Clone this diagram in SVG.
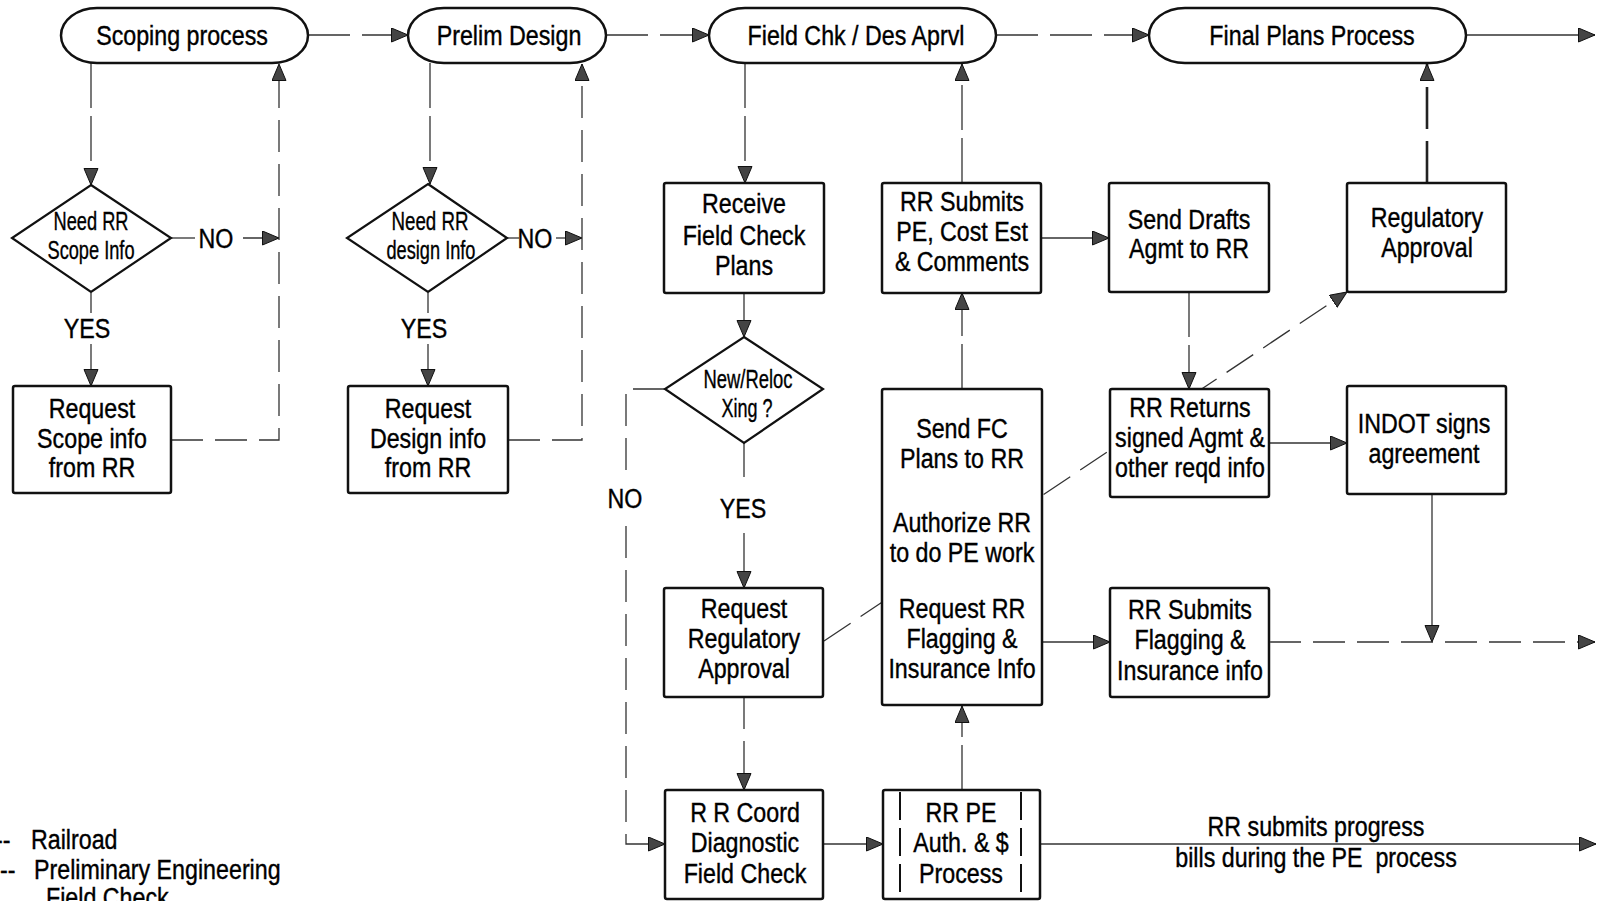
<svg xmlns="http://www.w3.org/2000/svg" width="1598" height="901" viewBox="0 0 1598 901">
<style>
.bg{fill:#fff}
.box{fill:#fff;stroke:#111;stroke-width:2.5}
.term{fill:#fff;stroke:#111;stroke-width:2.5}
.dia{fill:#fff;stroke:#111;stroke-width:2.2}
.t{font-family:"Liberation Sans Narrow","Liberation Sans",Arial,sans-serif;font-size:28px;text-anchor:middle;fill:#000;stroke:#000;stroke-width:0.4}
.tl{font-family:"Liberation Sans Narrow","Liberation Sans",Arial,sans-serif;font-size:28px;fill:#000;stroke:#000;stroke-width:0.4}
.dt{font-family:"Liberation Sans Narrow","Liberation Sans",Arial,sans-serif;font-size:25px;text-anchor:middle;fill:#000;stroke:#000;stroke-width:0.35}
.c{fill:none;stroke:#333;stroke-width:1.3}
.a{marker-end:url(#arr)}
.d1{stroke-dasharray:42 12}
.d2{stroke-dasharray:32 12}
.d3{stroke-dasharray:45 8}
.thick{stroke-width:2.6;stroke:#222}
.inner{stroke:#111;stroke-width:2;stroke-dasharray:28 8}
</style>
<defs>
<marker id="arr" markerUnits="userSpaceOnUse" markerWidth="18" markerHeight="16" refX="17" refY="7.5" orient="auto" viewBox="0 0 18 16">
<path d="M0.5,0.5 L17,7.5 L0.5,14.5 z" fill="#444" stroke="#111" stroke-width="1"/>
</marker>
</defs>
<rect class="bg" x="0" y="0" width="1598" height="901"/>
<g id="connectors">
<path class="c d1 a" d="M308,35 L408,35"/>
<path class="c d1 a" d="M606,35 L709,35"/>
<path class="c d1 a" d="M996,35 L1149,35"/>
<path class="c a" d="M1466,35 L1595,35"/>
<path class="c d3 a" d="M91,63 L91,185"/>
<path class="c" d="M171,238 L195,238"/>
<path class="c a" d="M243,238 L279,238"/>
<path class="c" d="M91,293 L91,313"/>
<path class="c a" d="M91,344 L91,386"/>
<path class="c d2 a" d="M171,440 L279,440 L279,64"/>
<path class="c d3 a" d="M430,63 L430,184"/>
<path class="c" d="M507,238 L519,238"/>
<path class="c a" d="M556,238 L582,238"/>
<path class="c" d="M428,293 L428,313"/>
<path class="c a" d="M428,344 L428,386"/>
<path class="c d2 a" d="M508,440 L582,440 L582,64"/>
<path class="c d3 a" d="M745,63 L745,183"/>
<path class="c a" d="M744,293 L744,337"/>
<path class="c" d="M744,443 L744,477"/>
<path class="c a" d="M744,533 L744,588"/>
<path class="c d2 a" d="M665,389 L626,389 L626,844 L665,844"/>
<path class="c d2 a" d="M744,697 L744,790"/>
<path class="c a" d="M823,844 L883,844"/>
<path class="c d3 a" d="M962,790 L962,706"/>
<path class="c d3 a" d="M962,389 L962,293"/>
<path class="c d3 a" d="M962,183 L962,64"/>
<path class="c a" d="M1041,238 L1109,238"/>
<path class="c d3 a" d="M1189,292 L1189,389"/>
<path class="c d2 a" d="M824,641 L1347,292"/>
<path class="c d1 thick a" d="M1427,183 L1427,64"/>
<path class="c a" d="M1269,443 L1347,443"/>
<path class="c a" d="M1432,494 L1432,642"/>
<path class="c a" d="M1042,642 L1110,642"/>
<path class="c d2 a" d="M1269,642 L1595,642"/>
<path class="c a" d="M1040,844 L1596,844"/>
</g>
<g id="labels">
<text class="t" transform="matrix(.83 0 0 1 216 248)">NO</text>
<text class="t" transform="matrix(.83 0 0 1 535 248)">NO</text>
<text class="t" transform="matrix(.83 0 0 1 87 338)">YES</text>
<text class="t" transform="matrix(.83 0 0 1 424 338)">YES</text>
<rect x="606" y="482" width="38" height="34" fill="#fff"/>
<text class="t" transform="matrix(.83 0 0 1 625 508)">NO</text>
<text class="t" transform="matrix(.83 0 0 1 743 518)">YES</text>
<text class="t" transform="matrix(.83 0 0 1 1316 836)">RR submits progress</text>
<text class="t" transform="matrix(.83 0 0 1 1316 867)" xml:space="preserve">bills during the PE  process</text>
</g>
<g id="n-scoping">
<rect class="term" x="61" y="8" width="247" height="55" rx="36" ry="27.5"/>
<text class="t" transform="matrix(.83 0 0 1 182 45)">Scoping process</text>
</g>
<g id="n-prelim">
<rect class="term" x="408" y="8" width="198" height="55" rx="36" ry="27.5"/>
<text class="t" transform="matrix(.83 0 0 1 509 45)">Prelim Design</text>
</g>
<g id="n-fieldchk">
<rect class="term" x="709" y="8" width="287" height="55" rx="36" ry="27.5"/>
<text class="t" transform="matrix(.83 0 0 1 856 45)">Field Chk / Des Aprvl</text>
</g>
<g id="n-final">
<rect class="term" x="1149" y="8" width="317" height="55" rx="36" ry="27.5"/>
<text class="t" transform="matrix(.83 0 0 1 1312 45)">Final Plans Process</text>
</g>
<g id="n-need-scope">
<polygon class="dia" points="91,185 171,238 91,292 12,238"/>
<text class="dt" x="91" y="230" textLength="75" lengthAdjust="spacingAndGlyphs">Need RR</text>
<text class="dt" x="91" y="259" textLength="87" lengthAdjust="spacingAndGlyphs">Scope Info</text>
</g>
<g id="n-need-design">
<polygon class="dia" points="428,184 507,238 428,292 347,238"/>
<text class="dt" x="430" y="230" textLength="77" lengthAdjust="spacingAndGlyphs">Need RR</text>
<text class="dt" x="431" y="259" textLength="89" lengthAdjust="spacingAndGlyphs">design Info</text>
</g>
<g id="n-req-scope">
<rect class="box" x="13" y="386" width="158" height="107" rx="2"/>
<text class="t" transform="matrix(.83 0 0 1 92 418)">Request</text>
<text class="t" transform="matrix(.83 0 0 1 92 448)">Scope info</text>
<text class="t" transform="matrix(.83 0 0 1 92 477)">from RR</text>
</g>
<g id="n-req-design">
<rect class="box" x="348" y="386" width="160" height="107" rx="2"/>
<text class="t" transform="matrix(.83 0 0 1 428 418)">Request</text>
<text class="t" transform="matrix(.83 0 0 1 428 448)">Design info</text>
<text class="t" transform="matrix(.83 0 0 1 428 477)">from RR</text>
</g>
<g id="n-receive">
<rect class="box" x="664" y="183" width="160" height="110" rx="2"/>
<text class="t" transform="matrix(.83 0 0 1 744 213)">Receive</text>
<text class="t" transform="matrix(.83 0 0 1 744 245)">Field Check</text>
<text class="t" transform="matrix(.83 0 0 1 744 275)">Plans</text>
</g>
<g id="n-rr-submits-pe">
<rect class="box" x="882" y="183" width="159" height="110" rx="2"/>
<text class="t" transform="matrix(.83 0 0 1 962 211)">RR Submits</text>
<text class="t" transform="matrix(.83 0 0 1 962 241)">PE, Cost Est</text>
<text class="t" transform="matrix(.83 0 0 1 962 271)">&amp; Comments</text>
</g>
<g id="n-send-drafts">
<rect class="box" x="1109" y="183" width="160" height="109" rx="2"/>
<text class="t" transform="matrix(.83 0 0 1 1189 229)">Send Drafts</text>
<text class="t" transform="matrix(.83 0 0 1 1189 258)">Agmt to RR</text>
</g>
<g id="n-reg-approval">
<rect class="box" x="1347" y="183" width="159" height="109" rx="2"/>
<text class="t" transform="matrix(.83 0 0 1 1427 227)">Regulatory</text>
<text class="t" transform="matrix(.83 0 0 1 1427 257)">Approval</text>
</g>
<g id="n-new-reloc">
<polygon class="dia" points="744,337 823,389 744,443 665,389"/>
<text class="dt" x="748" y="388" font-size="27" textLength="89" lengthAdjust="spacingAndGlyphs">New/Reloc</text>
<text class="dt" x="747" y="417" font-size="27" textLength="51" lengthAdjust="spacingAndGlyphs">Xing ?</text>
</g>
<g id="n-send-fc">
<rect class="box" x="882" y="389" width="160" height="316" rx="2"/>
<text class="t" transform="matrix(.83 0 0 1 962 438)">Send FC</text>
<text class="t" transform="matrix(.83 0 0 1 962 468)">Plans to RR</text>
<text class="t" transform="matrix(.83 0 0 1 962 532)">Authorize RR</text>
<text class="t" transform="matrix(.83 0 0 1 962 562)">to do PE work</text>
<text class="t" transform="matrix(.83 0 0 1 962 618)">Request RR</text>
<text class="t" transform="matrix(.83 0 0 1 962 648)">Flagging &amp;</text>
<text class="t" transform="matrix(.83 0 0 1 962 678)">Insurance Info</text>
</g>
<g id="n-rr-returns">
<rect class="box" x="1110" y="389" width="159" height="108" rx="2"/>
<text class="t" transform="matrix(.83 0 0 1 1190 417)">RR Returns</text>
<text class="t" transform="matrix(.83 0 0 1 1190 447)">signed Agmt &amp;</text>
<text class="t" transform="matrix(.83 0 0 1 1190 477)">other reqd info</text>
</g>
<g id="n-indot">
<rect class="box" x="1347" y="386" width="159" height="108" rx="2"/>
<text class="t" transform="matrix(.83 0 0 1 1424 433)">INDOT signs</text>
<text class="t" transform="matrix(.83 0 0 1 1424 463)">agreement</text>
</g>
<g id="n-req-reg">
<rect class="box" x="664" y="588" width="159" height="109" rx="2"/>
<text class="t" transform="matrix(.83 0 0 1 744 618)">Request</text>
<text class="t" transform="matrix(.83 0 0 1 744 648)">Regulatory</text>
<text class="t" transform="matrix(.83 0 0 1 744 678)">Approval</text>
</g>
<g id="n-rr-flagging">
<rect class="box" x="1110" y="588" width="159" height="109" rx="2"/>
<text class="t" transform="matrix(.83 0 0 1 1190 619)">RR Submits</text>
<text class="t" transform="matrix(.83 0 0 1 1190 649)">Flagging &amp;</text>
<text class="t" transform="matrix(.83 0 0 1 1190 680)">Insurance info</text>
</g>
<g id="n-rr-coord">
<rect class="box" x="665" y="790" width="158" height="109" rx="2"/>
<text class="t" transform="matrix(.83 0 0 1 745 822)">R R Coord</text>
<text class="t" transform="matrix(.83 0 0 1 745 852)">Diagnostic</text>
<text class="t" transform="matrix(.83 0 0 1 745 883)">Field Check</text>
</g>
<g id="n-rr-pe">
<rect class="box" x="883" y="790" width="157" height="109" rx="2"/>
<line class="inner" x1="900" y1="792" x2="900" y2="897"/>
<line class="inner" x1="1021" y1="792" x2="1021" y2="897"/>
<text class="t" transform="matrix(.83 0 0 1 961 822)">RR PE</text>
<text class="t" transform="matrix(.83 0 0 1 961 852)">Auth. &amp; $</text>
<text class="t" transform="matrix(.83 0 0 1 961 883)">Process</text>
</g>
<g id="legend">
<text class="tl" transform="matrix(.83 0 0 1 -5 849)">--</text>
<text class="tl" transform="matrix(.83 0 0 1 31 849)">Railroad</text>
<text class="tl" transform="matrix(.83 0 0 1 0 879)">--</text>
<text class="tl" transform="matrix(.83 0 0 1 34 879)">Preliminary Engineering</text>
<text class="tl" transform="matrix(.83 0 0 1 46 907)">Field Check</text>
</g>
</svg>
